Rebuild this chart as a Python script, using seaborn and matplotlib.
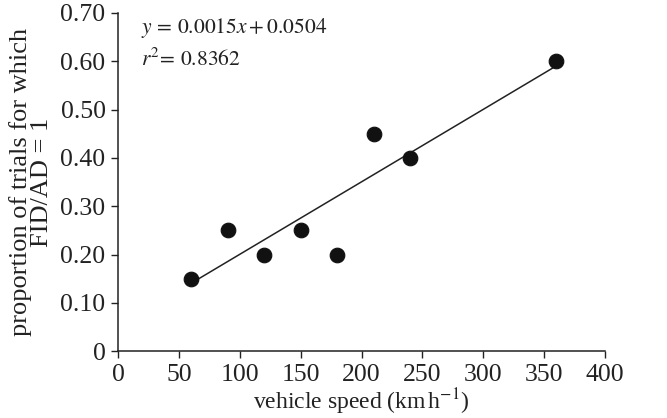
import matplotlib
matplotlib.use("Agg")
import matplotlib.pyplot as plt
import seaborn as sns
import numpy as np
import pandas as pd

speed = [60, 90, 120, 150, 180, 210, 240, 360]
proportion = [0.15, 0.25, 0.20, 0.25, 0.20, 0.45, 0.40, 0.60]
slope = 0.0015
intercept = 0.0504
r2 = 0.8362

x_ticks = [0, 50, 100, 150, 200, 250, 300, 350, 400]
y_ticks = [0, 0.10, 0.20, 0.30, 0.40, 0.50, 0.60, 0.70]
y_labels = ["0", "0.10", "0.20", "0.30", "0.40", "0.50", "0.60", "0.70"]

sns.set_style("ticks")
plt.rcParams['font.family'] = ['Liberation Serif', 'DejaVu Serif']
plt.rcParams['mathtext.fontset'] = 'stix'

df = pd.DataFrame({'speed': speed, 'proportion': proportion})

fig = plt.figure(figsize=(6.67, 4.18), dpi=100)
ax = fig.add_axes([0.177, 0.160, 0.730, 0.809])

fit_x = np.array([min(speed), max(speed)])
ax.plot(fit_x, slope * fit_x + intercept, color='#222222', lw=1.1, zorder=1)
sns.scatterplot(data=df, x='speed', y='proportion', ax=ax, color='#111111',
                s=110, edgecolor='#111111', zorder=2)

ax.set_xlim(0, 400)
ax.set_ylim(0, 0.70)
ax.set_xticks(x_ticks)
ax.set_yticks(y_ticks)
ax.set_yticklabels(y_labels)
ax.tick_params(labelsize=18.5, length=5, width=1, pad=4, color='#222222', labelcolor='#222222')
for s in ['top', 'right']:
    ax.spines[s].set_visible(False)
for s in ['left', 'bottom']:
    ax.spines[s].set_linewidth(1.1)
    ax.spines[s].set_color('#222222')

ax.set_xlabel(r'vehicle speed (km$\,$h$^{-1}$)', fontsize=17, color='#222222', labelpad=1)
ax.set_ylabel('proportion of trials for which\nFID/AD = 1', fontsize=19,
              color='#222222', linespacing=0.95, labelpad=5)

ax.text(19, 0.669, r'$y\,=\,0.0015x + 0.0504$', fontsize=15.5, color='#222222', va='center')
ax.text(19, 0.603, r'$r^2\!=\,0.8362$', fontsize=15.5, color='#222222', va='center')

fig.savefig('out.png', dpi=100)
